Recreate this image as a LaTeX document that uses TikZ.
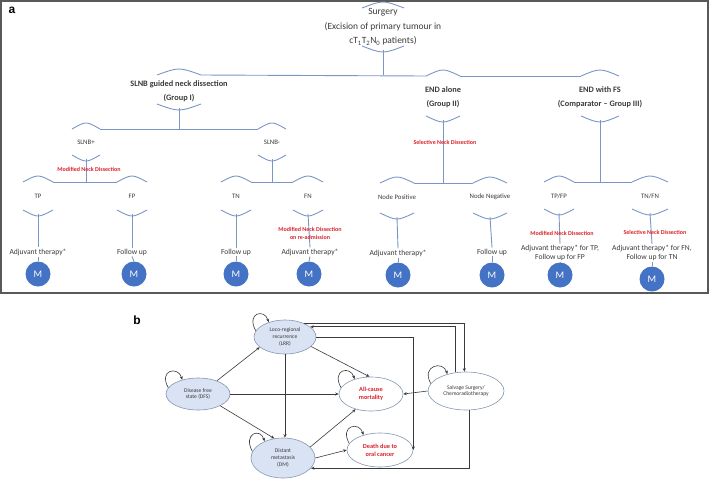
\documentclass[tikz,border=0pt]{standalone}
\usepackage{fontspec}
\setmainfont{Carlito}
\newfontfamily\panelfont{Liberation Sans}
\usetikzlibrary{calc,shapes.geometric,arrows.meta}

\definecolor{treeblue}{HTML}{7A96C6}
\definecolor{mblue}{HTML}{4472C4}
\definecolor{stateblue}{HTML}{DAE3F3}
\definecolor{stateline}{HTML}{8497B0}
\definecolor{redlbl}{HTML}{D9232B}
\definecolor{textgrey}{HTML}{3A3A3A}
\definecolor{framegrey}{HTML}{595959}

\begin{document}
\begin{tikzpicture}[x=1pt,y=-1pt,
    tree/.style={treeblue,line width=0.9pt},
    panellbl/.style={font=\panelfont\bfseries\fontsize{12}{12}\selectfont,inner sep=0pt},
    toptxt/.style={align=center,text=textgrey,inner sep=1pt,font=\fontsize{9.5}{14.5}\selectfont},
    grouptxt/.style={align=center,text=textgrey,inner sep=1pt,font=\fontsize{8.3}{14}\selectfont\bfseries},
    choicetxt/.style={text=textgrey,inner sep=1pt,font=\fontsize{6.8}{8}\selectfont},
    leaftxt/.style={align=center,text=textgrey,inner sep=1pt,font=\fontsize{7.6}{9}\selectfont},
    redtxt/.style={align=center,text=redlbl,inner sep=0pt,font=\fontsize{6}{8}\selectfont\bfseries},
    mcirc/.style={circle,fill=mblue,minimum size=25pt,inner sep=0pt,text=white,font=\fontsize{10}{10}\selectfont},
    state/.style={ellipse,draw=stateline,fill=stateblue,line width=0.6pt,inner sep=0pt,align=center,
        text=textgrey,font=\fontsize{5.6}{6.8}\selectfont},
    endstate/.style={state,fill=white,text=redlbl,font=\fontsize{6.3}{8}\selectfont\bfseries},
    flow/.style={textgrey,line width=0.6pt,-{Stealth[length=3.5pt,width=3pt]}}]
\useasboundingbox (0,0) rectangle (709,480);

% ---------- panel a ----------
\draw[framegrey,line width=1.2pt] (1,1) rectangle (708,293);
\node[panellbl] (lbla) at (12,10) {a};

\node[toptxt] (surg) at (383,27) {Surgery\\(Excision of primary tumour in\\cT\textsubscript{1}T\textsubscript{2}N\textsubscript{0} patients)};

\node[grouptxt] (g1) at (179,91) {SLNB guided neck dissection\\(Group I)};
\node[grouptxt] (g2) at (443,97) {END alone\\(Group II)};
\node[grouptxt] (g3) at (600,97) {END with FS\\(Comparator -- Group III)};

\node[choicetxt] (slp) at (86,142) {SLNB+};
\node[choicetxt] (slm) at (272,142) {SLNB-};

\node[choicetxt] (tp) at (38,196) {TP};
\node[choicetxt] (fp) at (132,196) {FP};
\node[choicetxt] (tn) at (236,196) {TN};
\node[choicetxt] (fn) at (308,196) {FN};
\node[choicetxt] (npos) at (397,197) {Node Positive};
\node[choicetxt] (nneg) at (490,197) {Node Negative};
\node[choicetxt] (tpfp) at (559,196) {TP/FP};
\node[choicetxt] (tnfn) at (650,196) {TN/FN};

% arcs above and below each node
\foreach \n/\hw/\up/\dn in {surg/21/23/23, g1/22/20/17, g2/17/25/23, g3/19/25/23,
    slp/14/17/17, slm/14/17/17, tp/15/18/18, fp/15/18/18, tn/15/18/18, fn/15/18/18,
    npos/17/18/20, nneg/17/18/20, tpfp/15/18/17, tnfn/18/18/17} {
  \coordinate (\n-t) at ($(\n)+(0,-\up)$);
  \coordinate (\n-b) at ($(\n)+(0,\dn)$);
  \coordinate (\n-tl) at ($(\n)+(-\hw,-\up+4)$);
  \coordinate (\n-tr) at ($(\n)+(\hw,-\up+4)$);
  \draw[tree] (\n-tl) .. controls ($(\n)+(0,-\up-4)$) .. (\n-tr);
  \draw[tree] ($(\n)+(-\hw,\dn-4)$) .. controls ($(\n)+(0,\dn+4)$) .. ($(\n)+(\hw,\dn-4)$);
}

\node[leaftxt] (tpa) at (38,252) {Adjuvant therapy*};
\node[leaftxt] (fpa) at (132,252) {Follow up};
\node[leaftxt] (tna) at (236,252) {Follow up};
\node[leaftxt] (fna) at (310,252) {Adjuvant therapy*};
\node[leaftxt] (npa) at (398,253) {Adjuvant therapy*};
\node[leaftxt] (nna) at (492,252) {Follow up};
\node[leaftxt] (tpfpa) at (560,253) {Adjuvant therapy* for TP,\\Follow up for FP};
\node[leaftxt] (tnfna) at (652,253) {Adjuvant therapy* for FN,\\Follow up for TN};

\node[mcirc] (tpm) at (38,274) {M};
\node[mcirc] (fpm) at (134,274) {M};
\node[mcirc] (tnm) at (236,274) {M};
\node[mcirc] (fnm) at (309,274) {M};
\node[mcirc] (npm) at (398,275) {M};
\node[mcirc] (nnm) at (492,275) {M};
\node[mcirc] (tpfpm) at (560,275) {M};
\node[mcirc] (tnfnm) at (652,279) {M};

% tree lines
\draw[tree] (surg-b) -- (surg-b |- g1-tr);
\draw[tree] (g1-tr) -- (g2-tl);
\draw[tree] (g2-tr) -- (g3-tl);
\draw[tree] (g1-b) -- (g1-b |- slp-tr);
\draw[tree] (slp-tr) -- (slm-tl);
\draw[tree] (slp-b) -- (slp-b |- tp-tr);
\draw[tree] (tp-tr) -- (fp-tl);
\draw[tree] (slm-b) -- (slm-b |- tn-tr);
\draw[tree] (tn-tr) -- (fn-tl);
\draw[tree] (g2-b) -- (g2-b |- npos-tr);
\draw[tree] (npos-tr) -- (nneg-tl);
\draw[tree] (g3-b) -- (g3-b |- tpfp-tr);
\draw[tree] (tpfp-tr) -- (tnfn-tl);

\foreach \n in {tp,fp,tn,fn,tpfp,tnfn} {
  \draw[tree] (\n-b) -- (\n a.north);
  \draw[tree] (\n a.south) -- (\n m.north);
}
\draw[tree] (npos-b) -- (npa.north);
\draw[tree] (npa.south) -- (npm.north);
\draw[tree] (nneg-b) -- (nna.north);
\draw[tree] (nna.south) -- (nnm.north);

% red labels on the lines
\node[redtxt] (mnd1) at (89,169) {Modified Neck Dissection};
\node[redtxt] (mnd2) at (310,233) {Modified Neck Dissection\\on re-admission};
\node[redtxt] (snd1) at (445,142) {Selective Neck Dissection};
\node[redtxt] (mnd3) at (562,233) {Modified Neck Dissection};
\node[redtxt] (snd2) at (655,232) {Selective Neck Dissection};

% ---------- panel b ----------
\node[panellbl] (lblb) at (137,320) {b};

\node[state,minimum width=62pt,minimum height=34pt] (lrr) at (285,337) {Loco-regional\\recurrence\\(LRR)};
\node[state,minimum width=64pt,minimum height=32pt] (dfs) at (198,394) {Disease free\\state (DFS)};
\node[state,minimum width=64pt,minimum height=40pt] (dm) at (283,458) {Distant\\metastasis\\(DM)};
\node[endstate,minimum width=64pt,minimum height=34pt] (acm) at (371,394) {All-cause\\mortality};
\node[endstate,minimum width=66pt,minimum height=34pt] (doc) at (380,450) {Death due to\\oral cancer};
\node[state,fill=white,minimum width=76pt,minimum height=38pt] (sal) at (466,391) {Salvage Surgery/\\Chemoradiotherapy};

\draw[flow] (dfs.35) -- (lrr.202);
\draw[flow] (dfs.east) -- (acm.west);
\draw[flow] (dfs.-28) -- (dm.114);
\draw[flow] (lrr.south) -- (lrr.south |- dm.north);
\draw[flow] (lrr.-20) -- (acm.95);
\draw[flow] (dm.22) -- (acm.225);
\draw[flow] (dm.east) -- (doc.west);
\draw[flow] (sal.west) -- (acm.east);
\draw[flow] (sal.-80) |- (dm.-20);
\draw[flow] (lrr.35) -| (sal.95);
\draw[flow] (sal.120) |- (lrr.22);
\draw[flow] (lrr.east) -| (doc.east);

% self loops
\foreach \s in {lrr,dfs,dm,acm,doc,sal}
  \draw[flow] (\s.168) .. controls +(-10,-18) and +(-4,-14) .. (\s.138);

\end{tikzpicture}
\end{document}
